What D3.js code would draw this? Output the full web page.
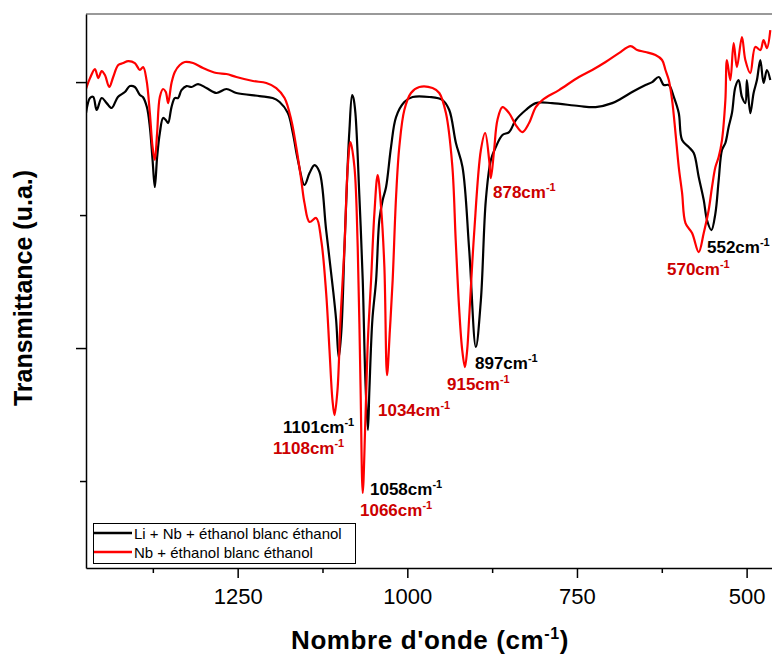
<!DOCTYPE html>
<html><head><meta charset="utf-8">
<script src="https://cdn.jsdelivr.net/npm/d3@7"></script>
<style>
body{margin:0;background:#fff;}
svg{display:block;font-family:"Liberation Sans",Arial,sans-serif;}
</style></head><body>
<svg id="chart" width="772" height="657"></svg>
<script>
// ---- data (wavenumber cm-1, transmittance u.a.) ----
const blackX = [1473.5,1467.6,1462.8,1457.8,1450.4,1443.1,1435.7,1426.5,1416.2,1408.8,1401.5,1394.1,1389.7,1383.8,1379.4,1375.4,1372.1,1368.7,1364.7,1359.9,1355.9,1352.5,1347.5,1342.6,1337.8,1332.8,1325.4,1318.1,1308.4,1296.0,1281.3,1266.6,1251.9,1217.6,1198.5,1188.2,1176.0,1168.7,1161.3,1151.5,1144.1,1136.8,1129.4,1119.6,1109.9,1104.9,1101.0,1097.1,1092.6,1088.2,1085.3,1081.3,1079.4,1076.5,1070.6,1065.7,1061.8,1058.1,1055.9,1051.5,1046.0,1041.2,1036.3,1031.3,1024.0,1016.6,1004.4,992.2,967.6,948.1,938.2,928.4,918.7,908.8,899.0,891.6,884.3,876.9,869.6,859.8,850.0,840.1,825.4,810.7,786.8,747.1,722.5,698.1,683.4,668.7,649.0,639.2,629.4,622.1,614.7,607.3,600.0,595.1,585.3,577.9,570.6,563.2,558.4,551.9,546.0,541.2,536.3,531.3,526.5,521.6,516.6,511.8,506.9,501.9,499.6,494.6,489.7,484.8,479.8,475.0,470.1,465.1];
const blackY = [376.7,388.0,388.8,379.0,388.0,384.2,380.5,388.8,392.5,397.0,396.3,390.3,388.8,381.2,366.2,341.4,321.1,343.6,361.7,373.0,371.5,369.2,381.2,388.0,388.0,394.0,397.0,396.3,398.5,395.5,391.8,394.8,391.8,389.5,388.0,385.0,376.7,361.7,341.4,322.6,331.6,337.6,332.4,288.7,245.9,221.1,192.5,213.5,275.9,333.9,364.0,390.3,388.0,376.7,313.6,251.1,175.9,138.3,168.4,221.1,251.1,296.3,311.3,321.1,351.2,373.7,385.0,388.8,388.8,386.5,379.0,354.2,336.1,273.7,200.8,236.1,311.3,341.4,351.2,360.2,362.4,371.5,379.0,384.2,384.2,382.0,381.2,384.2,388.0,392.5,397.8,400.0,403.8,397.8,397.8,388.8,376.7,356.4,351.2,346.6,328.6,311.3,296.3,288.7,301.3,326.1,348.9,354.2,366.2,376.7,396.3,401.5,388.8,384.2,401.5,376.7,391.8,401.5,416.6,399.3,409.1,401.5];
const redX = [1473.5,1467.6,1460.3,1455.4,1450.4,1445.6,1439.3,1433.4,1426.0,1418.7,1411.3,1401.5,1394.1,1389.3,1384.3,1379.4,1375.4,1372.1,1368.7,1364.7,1359.9,1355.9,1352.5,1347.5,1342.6,1335.3,1327.9,1315.7,1301.0,1281.3,1266.6,1251.9,1227.5,1207.8,1193.1,1180.9,1171.0,1163.7,1156.3,1151.5,1144.1,1134.3,1126.9,1119.6,1114.7,1110.3,1107.3,1102.9,1098.5,1092.6,1087.8,1083.8,1077.9,1073.1,1069.1,1065.7,1061.8,1058.1,1053.4,1048.5,1043.7,1038.7,1033.8,1029.9,1025.7,1021.6,1016.6,1011.8,1004.4,994.6,982.3,962.8,952.9,943.1,933.8,928.7,923.5,919.1,915.1,911.8,908.8,901.5,891.6,885.3,879.4,876.9,872.1,867.2,859.8,850.0,840.1,830.4,820.6,810.7,801.0,776.5,747.1,727.5,707.8,688.2,671.0,661.3,649.0,634.3,624.6,619.6,614.7,609.8,604.8,600.0,595.1,590.1,580.4,570.6,563.2,555.9,551.0,546.0,541.2,536.3,531.3,529.0,524.0,519.1,514.3,506.9,501.9,494.6,487.2,479.8,475.0,470.1,465.1];
const redY = [394.8,403.0,409.8,403.0,408.3,405.3,396.3,403.8,412.8,414.3,415.8,414.3,409.1,411.3,401.5,376.7,351.2,341.4,361.7,388.8,394.8,392.5,384.2,399.3,407.6,412.8,415.1,414.3,410.6,406.8,406.1,403.8,400.8,399.3,395.5,388.0,371.5,351.2,326.3,309.0,294.8,297.8,281.2,241.4,198.5,160.9,149.6,168.4,221.1,275.9,336.1,354.9,336.1,275.9,175.9,91.0,145.9,206.0,251.1,301.5,330.1,306.0,260.9,179.7,213.5,251.1,313.6,351.2,379.0,391.8,396.3,395.5,391.8,376.7,337.6,281.2,228.6,198.5,185.7,198.5,223.3,286.5,348.9,361.7,341.4,327.8,348.9,371.5,381.2,376.7,367.7,362.4,369.2,381.2,386.5,394.0,403.8,409.1,415.1,421.8,427.1,424.1,422.6,420.3,416.6,409.1,401.5,386.5,361.7,336.1,316.6,294.0,286.5,272.2,286.5,303.8,321.1,336.1,343.6,356.4,386.5,416.6,401.5,429.4,411.3,433.9,416.6,406.8,426.4,424.1,431.6,425.6,439.1];

const seriesNames = ["Li + Nb + éthanol blanc éthanol", "Nb + éthanol blanc éthanol"];
const seriesColors = ["#000000", "#ff0000"];
const xTicks = [1250, 1000, 750, 500];
const xMinorTicks = [1375, 1125, 875, 625];
const yMajorTicks = [200, 400];
const yMinorTicks = [100, 300];

// peak annotations: wavenumber label, series index
const peakLabels = ["1101","1108","1058","1066","1034","915","897","878","552","570"];
const peakSeries = [0,1,0,1,1,1,0,1,0,1];

// ---- layout ----
const W = 772, H = 657;
const m = {left:86, right:772, top:14, bottom:568};
const svg = d3.select("#chart");
const x = d3.scaleLinear().domain([1473.5, 462.6]).range([m.left, m.right]);
const y = d3.scaleLinear().domain([34.6, 451.2]).range([m.bottom, m.top]);

svg.append("defs").append("clipPath").attr("id","clip")
  .append("rect").attr("x",m.left).attr("y",m.top).attr("width",m.right-m.left).attr("height",m.bottom-m.top);

// top frame
svg.append("line").attr("x1",m.left).attr("x2",m.right).attr("y1",m.top).attr("y2",m.top)
  .attr("stroke","#777").attr("stroke-width",1.5);

// lines
const line = d3.line().x(d=>x(d[0])).y(d=>y(d[1])).curve(d3.curveCatmullRom.alpha(0.5));
const series = [d3.zip(blackX, blackY), d3.zip(redX, redY)];
const g = svg.append("g").attr("clip-path","url(#clip)");
series.forEach((s,i)=>{
  g.append("path").datum(s).attr("d",line).attr("fill","none")
   .attr("stroke",seriesColors[i]).attr("stroke-width",2.2).attr("stroke-linejoin","round");
});

// x axis
const xAxis = svg.append("g").attr("transform",`translate(0,${m.bottom})`)
  .call(d3.axisBottom(x).tickValues(xTicks).tickSize(10).tickSizeOuter(0).tickFormat(d3.format("d")));
xAxis.select(".domain").attr("stroke","#000").attr("stroke-width",1.5);
xAxis.selectAll(".tick line").attr("stroke-width",1.5);
xAxis.selectAll(".tick text").attr("font-size",22).attr("font-family","'Liberation Sans',Arial,sans-serif").attr("fill","#000").attr("dy","1.05em");
svg.append("g").attr("transform",`translate(0,${m.bottom})`)
  .call(d3.axisBottom(x).tickValues(xMinorTicks).tickSize(5).tickFormat(""))
  .call(a=>a.select(".domain").remove()).selectAll("line").attr("stroke-width",1.5);

// y axis
const yAxis = svg.append("g").attr("transform",`translate(${m.left},0)`)
  .call(d3.axisLeft(y).tickValues(yMajorTicks).tickSize(10).tickSizeOuter(0).tickFormat(""));
yAxis.select(".domain").attr("stroke","#000").attr("stroke-width",1.5);
yAxis.selectAll(".tick line").attr("stroke-width",1.5);
svg.append("g").attr("transform",`translate(${m.left},0)`)
  .call(d3.axisLeft(y).tickValues(yMinorTicks).tickSize(6).tickFormat(""))
  .call(a=>a.select(".domain").remove()).selectAll("line").attr("stroke-width",1.5);

// axis titles
const xt = svg.append("text").attr("x",430).attr("y",649).attr("text-anchor","middle")
  .attr("font-size",26).attr("font-weight","bold").attr("letter-spacing",0.6).attr("fill","#000");
xt.append("tspan").text("Nombre d'onde (cm");
xt.append("tspan").attr("dy",-10).attr("font-size",16).text("-1");
xt.append("tspan").attr("dy",10).text(")");

svg.append("text").attr("transform","translate(32,288) rotate(-90)").attr("text-anchor","middle")
  .attr("font-size",25).attr("font-weight","bold").attr("fill","#000").text("Transmittance (u.a.)");

// peak labels
const labelPos = [[283,433],[273,454],[370,495],[360,516],[378,416],[447,390],[475,369],[493,198],[707,253],[667,275]];
const labelColors = ["#000000","#cc0000"];
peakLabels.forEach((t,i)=>{
  const tx = svg.append("text").attr("x",labelPos[i][0]).attr("y",labelPos[i][1])
    .attr("font-size",17).attr("font-weight","bold").attr("fill",labelColors[peakSeries[i]]);
  tx.append("tspan").text(t+"cm");
  tx.append("tspan").attr("dy",-7).attr("font-size",11).text("-1");
});

// legend
const lg = svg.append("g");
lg.append("rect").attr("x",93.5).attr("y",523.5).attr("width",262).attr("height",40)
  .attr("fill","#fff").attr("stroke","#000").attr("stroke-width",1);
seriesNames.forEach((n,i)=>{
  const yy = 533 + i*19;
  lg.append("line").attr("x1",94).attr("x2",132).attr("y1",yy).attr("y2",yy)
    .attr("stroke",seriesColors[i]).attr("stroke-width",2.5);
  lg.append("text").attr("x",134).attr("y",yy+5.5).attr("font-size",15).attr("fill","#000").text(n);
});
</script>
</body></html>
